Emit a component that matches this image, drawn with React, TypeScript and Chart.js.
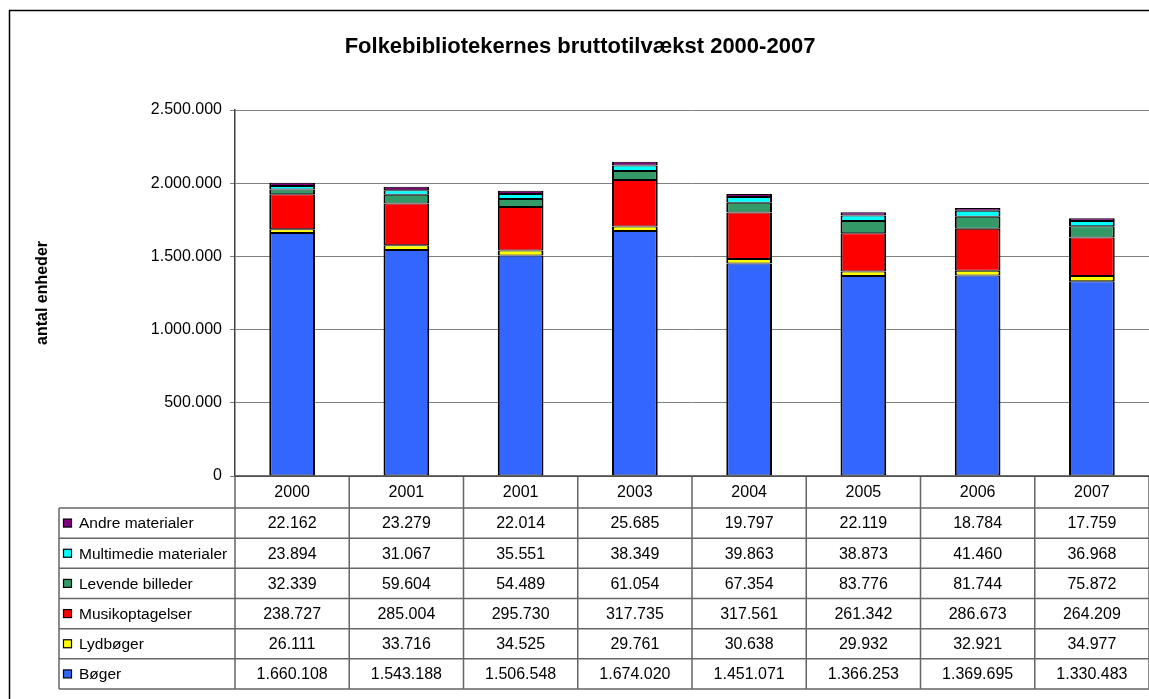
import React, { useEffect, useRef } from "react";
import { Chart, registerables } from "chart.js";

Chart.register(...registerables);

const years = ["2000", "2001", "2001", "2003", "2004", "2005", "2006", "2007"];
const boger = [1660108, 1543188, 1506548, 1674020, 1451071, 1366253, 1369695, 1330483];
const lydboger = [26111, 33716, 34525, 29761, 30638, 29932, 32921, 34977];
const musik = [238727, 285004, 295730, 317735, 317561, 261342, 286673, 264209];
const levende = [32339, 59604, 54489, 61054, 67354, 83776, 81744, 75872];
const multimedie = [23894, 31067, 35551, 38349, 39863, 38873, 41460, 36968];
const andre = [22162, 23279, 22014, 25685, 19797, 22119, 18784, 17759];

const seriesNames = ["Bøger", "Lydbøger", "Musikoptagelser", "Levende billeder", "Multimedie materialer", "Andre materialer"];
const seriesData = [boger, lydboger, musik, levende, multimedie, andre];
const seriesColors = ["#3366FF", "#FFFF00", "#FF0000", "#339966", "#00FFFF", "#800080"];

const title = "Folkebibliotekernes bruttotilvækst 2000-2007";
const yTitle = "antal enheder";
const yTicks = [0, 500000, 1000000, 1500000, 2000000, 2500000];

const FONT = '"Liberation Sans", Arial, sans-serif';

const fmt = (n: number) => Math.round(n).toString().replace(/\B(?=(\d{3})+(?!\d))/g, ".");

const decorPlugin = {
  id: "decor",
  afterDraw(chart: any) {
    const ctx = chart.ctx as CanvasRenderingContext2D;
    const ca = chart.chartArea;
    ctx.save();

    // outer frame
    ctx.strokeStyle = "#000";
    ctx.lineWidth = 1.5;
    ctx.strokeRect(9.5, 10.5, 1300, 900);

    // title
    ctx.fillStyle = "#000";
    ctx.font = `bold 22px ${FONT}`;
    ctx.textAlign = "center";
    ctx.textBaseline = "alphabetic";
    ctx.fillText(title, 580, 53);

    // y axis title
    ctx.save();
    ctx.translate(43, (ca.top + ca.bottom) / 2);
    ctx.rotate(-Math.PI / 2);
    ctx.font = `bold 16px ${FONT}`;
    ctx.textBaseline = "middle";
    ctx.fillText(yTitle, 0, 0);
    ctx.restore();

    // data table
    const n = years.length;
    const colW = (ca.right - ca.left) / n;
    const headTop = ca.bottom;
    const headBot = 508;
    const rows = seriesNames.length;
    const tableBot = 689;
    const rowH = (tableBot - headBot) / rows;
    const legLeft = 59;

    ctx.strokeStyle = "#666666";
    ctx.lineWidth = 1.5;
    ctx.beginPath();
    for (let k = 0; k <= rows; k++) {
      const y = headBot + k * rowH;
      ctx.moveTo(legLeft, y);
      ctx.lineTo(1149, y);
    }
    ctx.moveTo(legLeft, headBot);
    ctx.lineTo(legLeft, tableBot);
    for (let i = 0; i <= n; i++) {
      const x = ca.left + i * colW;
      ctx.moveTo(x, headTop);
      ctx.lineTo(x, tableBot);
    }
    ctx.stroke();

    ctx.strokeStyle = "#404040";
    ctx.beginPath();
    ctx.moveTo(ca.left, headTop);
    ctx.lineTo(ca.right, headTop);
    ctx.stroke();

    ctx.fillStyle = "#000";
    ctx.font = `16px ${FONT}`;
    ctx.textAlign = "center";
    ctx.textBaseline = "middle";
    for (let i = 0; i < n; i++) {
      const cx = ca.left + (i + 0.5) * colW;
      ctx.fillText(years[i], cx, (headTop + headBot) / 2 + 1);
    }
    for (let k = 0; k < rows; k++) {
      const s = rows - 1 - k;
      const cy = headBot + k * rowH + rowH / 2 + 1;
      for (let i = 0; i < n; i++) {
        const cx = ca.left + (i + 0.5) * colW;
        ctx.fillStyle = "#000";
        ctx.textAlign = "center";
        ctx.font = `16px ${FONT}`;
        ctx.fillText(fmt(seriesData[s][i]), cx, cy);
      }
      // legend key
      ctx.fillStyle = seriesColors[s];
      ctx.fillRect(63.5, cy - 5, 8, 8);
      ctx.strokeStyle = "#000";
      ctx.lineWidth = 1.2;
      ctx.strokeRect(63.5, cy - 5, 8, 8);
      ctx.fillStyle = "#000";
      ctx.textAlign = "left";
      ctx.font = `15.5px ${FONT}`;
      ctx.fillText(seriesNames[s], 79, cy);
    }
    ctx.restore();
  },
};

export default function App() {
  const ref = useRef<HTMLCanvasElement | null>(null);

  useEffect(() => {
    if (!ref.current) return;
    const chart = new Chart(ref.current, {
      type: "bar",
      data: {
        labels: years,
        datasets: seriesNames.map((name, i) => ({
          label: name,
          data: seriesData[i],
          backgroundColor: seriesColors[i],
          borderColor: "#000",
          borderWidth: { top: 1, bottom: 1, left: 2, right: 2 },
          borderSkipped: false,
          barPercentage: 0.4,
          categoryPercentage: 1,
        })),
      },
      options: {
        animation: false,
        responsive: false,
        layout: { padding: { left: 0, top: 110, right: 0, bottom: 223 } },
        plugins: {
          legend: { display: false },
          title: { display: false },
          tooltip: { enabled: false },
        },
        scales: {
          x: { stacked: true, display: false, offset: true },
          y: {
            stacked: true,
            min: 0,
            max: 2500000,
            afterBuildTicks: (s: any) => {
              s.ticks = yTicks.map((v) => ({ value: v }));
            },
            afterFit: (s: any) => {
              s.width = 235;
            },
            ticks: {
              callback: (v: any) => fmt(Number(v)),
              font: { family: FONT, size: 16 },
              color: "#000",
              padding: 8,
            },
            grid: { color: "#808080", lineWidth: 1, tickLength: 5 },
            border: { color: "#404040", width: 1.5 },
          },
        },
      },
      plugins: [decorPlugin],
    });
    return () => chart.destroy();
  }, []);

  return (
    <div style={{ position: "absolute", left: 0, top: 0, width: 1149, height: 699, background: "#fff" }}>
      <canvas ref={ref} width={1149} height={699} style={{ display: "block" }} />
    </div>
  );
}
